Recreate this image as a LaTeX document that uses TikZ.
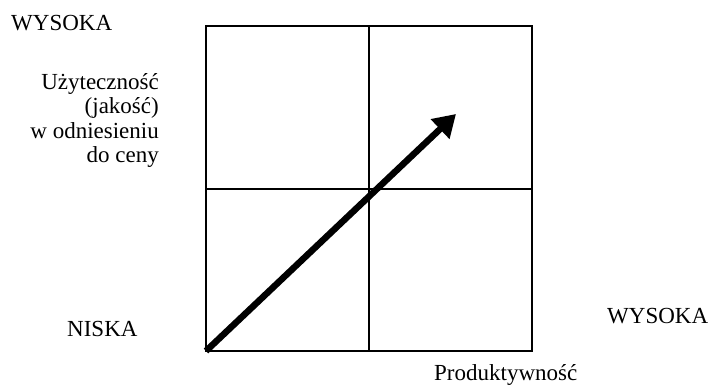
\documentclass[tikz,border=0pt]{standalone}
\usepackage{fontspec}
\setmainfont{Liberation Serif}
\usetikzlibrary{arrows.meta}
\begin{document}
\begin{tikzpicture}[x=1pt,y=-1pt,
  lbl/.style={inner sep=0pt,font=\fontsize{23}{24.5}\selectfont},
  grid/.style={line width=2pt},
  bigarrow/.style={line width=6.5pt,-{Triangle[length=22pt,width=26pt]}}]
\useasboundingbox (0,0) rectangle (713,387);
\fill[white] (0,0) rectangle (713,387);
\coordinate (bl) at (206,351);
\coordinate (tip) at (456,114);
\draw[grid] (206,26) rectangle (532,351);
\draw[grid] (369,26) -- (369,351);
\draw[grid] (206,189) -- (532,189);
\draw[bigarrow] (bl) -- (tip);
\node[lbl,anchor=base west] (wys1) at (11,31) {WYSOKA};
\node[lbl,anchor=base east,align=right] (util) at (159,163) {Użyteczność\\(jakość)\\w odniesieniu\\do ceny};
\node[lbl,anchor=base west] (nis) at (67,337) {NISKA};
\node[lbl,anchor=base west] (wys2) at (607,324) {WYSOKA};
\node[lbl,anchor=base west] (prod) at (434,381) {Produktywność};
\end{tikzpicture}
\end{document}
